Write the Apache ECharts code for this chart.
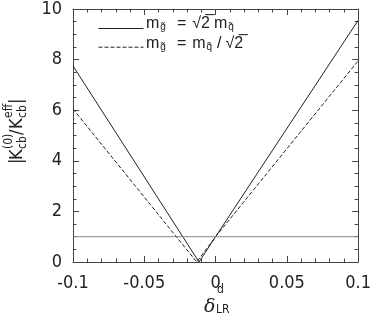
<!DOCTYPE html>
<html><head><meta charset="utf-8">
<script src="https://cdn.jsdelivr.net/npm/echarts@6/dist/echarts.min.js"></script>
<style>html,body{margin:0;padding:0;background:#fff}#c{width:374px;height:321px}</style>
</head><body><div id="c"></div>
<script>
var seriesNames = ['sqrt2', 'inv'];
var legendTexts = ['{m|m}{s|g̃}{e|=}{m|√2̅}{m2|m}{s|q̃}', '{m|m}{s|g̃}{e|=}{m|m}{s|q̃}{sl|/}{m|√2̅}'];
var solidX = [-0.1, -0.0116, 0, 0.1];
var solidY = [7.75, 0, 1, 9.55];
var dashedX = [-0.1, -0.0132, 0, 0.1];
var dashedY = [6.05, 0, 1, 7.95];
var refX = [-0.1, 0.1];
var refY = [1, 1];
var xTicks = [-0.1, -0.05, 0, 0.05, 0.1];
var yTicks = [0, 2, 4, 6, 8, 10];

function pairs(xs, ys){ return xs.map(function(x,i){return [x, ys[i]];}); }

var FONT = '"Liberation Sans Narrow", "DejaVu Sans Condensed", "Liberation Sans", sans-serif';
var LFONT = '"Liberation Sans", sans-serif';
var INK = '#222';
var chart = echarts.init(document.getElementById('c'), null, {renderer:'canvas'});
var axisCommon = {
  type:'value',
  axisLine:{show:true, onZero:false, lineStyle:{color:'#444', width:1}},
  axisTick:{show:true, inside:true, length:6, lineStyle:{color:'#444'}},
  splitLine:{show:false},
  minorSplitLine:{show:false}
};
var legendRich = {
  m:{fontFamily:LFONT, fontSize:16, fill:INK},
  m2:{fontFamily:LFONT, fontSize:16, fill:INK, padding:[0,0,0,4]},
  e:{fontFamily:LFONT, fontSize:16, fill:INK, padding:[0,6,0,11]},
  sl:{fontFamily:LFONT, fontSize:16, fill:INK, padding:[0,4,0,5]},
  s:{fontFamily:LFONT, fontSize:10, fill:INK, verticalAlign:'bottom', padding:[7,0,0,1]}
};
function txt(t, x, y, size, extra){
  var st = {text:t, fontFamily:FONT, fontSize:size, fill:INK, align:'left', verticalAlign:'middle'};
  if(extra) for(var k in extra) st[k]=extra[k];
  return {type:'text', x:x, y:y, style:st};
}
chart.setOption({
  animation:false,
  grid:{left:73, right:12, top:7, bottom:59, containLabel:false},
  legend:{
    show:true, orient:'vertical', left:93, top:17, itemWidth:45, itemHeight:13, itemGap:7,
    data:seriesNames,
    itemStyle:{color:'rgba(0,0,0,0)', borderWidth:0, opacity:0},
    lineStyle:{width:1},
    formatter:function(){ return ''; },
    textStyle:{fontSize:1}
  },
  xAxis:[
    Object.assign({}, axisCommon, {
      min:-0.1, max:0.1, interval:0.05, position:'bottom',
      minorTick:{show:true, splitNumber:5, length:3.5, lineStyle:{color:'#444'}},
      axisLabel:{show:true, margin:12, color:INK, fontFamily:FONT, fontSize:18,
        formatter:function(v){return String(+v.toFixed(2));}}
    }),
    Object.assign({}, axisCommon, {
      min:-0.1, max:0.1, interval:0.05, position:'top',
      minorTick:{show:true, splitNumber:5, length:3.5, lineStyle:{color:'#444'}},
      axisLabel:{show:false}
    })
  ],
  yAxis:[
    Object.assign({}, axisCommon, {
      min:0, max:10, interval:2, position:'left',
      minorTick:{show:true, splitNumber:4, length:3.5, lineStyle:{color:'#444'}},
      axisLabel:{show:true, margin:11, color:INK, fontFamily:FONT, fontSize:18}
    }),
    Object.assign({}, axisCommon, {
      min:0, max:10, interval:2, position:'right',
      minorTick:{show:true, splitNumber:4, length:3.5, lineStyle:{color:'#444'}},
      axisLabel:{show:false}
    })
  ],
  graphic:[
    // legend texts
    {type:'text', x:146, y:24, style:{text:legendTexts[0], rich:legendRich, fontFamily:LFONT, fontSize:16, fill:INK, verticalAlign:'middle'}},
    {type:'text', x:146, y:44, style:{text:legendTexts[1], rich:legendRich, fontFamily:LFONT, fontSize:16, fill:INK, verticalAlign:'middle'}},
    // x-axis title: delta^d_LR
    txt('δ', 204, 307, 19, {fontFamily:'"DejaVu Serif", serif', fontStyle:'italic'}),
    txt('d', 217, 290, 12),
    txt('LR', 216, 310, 12),
    // y-axis title, rotated
    {type:'group', x:17, y:131, rotation:Math.PI/2, children:[
      txt('|', -33, 0, 18),
      txt('K', -29, 0, 18),
      txt('cb', -18, 6, 12),
      txt('(0)', -18, -8, 12),
      txt('/', -4, 0, 18),
      txt('K', 2, 0, 18),
      txt('cb', 13, 6, 12),
      txt('eff', 13, -8, 12),
      txt('|', 27, 0, 18)
    ]}
  ],
  series:[
    {name:'sqrt2', type:'line', data:pairs(solidX, solidY), symbol:'none', showSymbol:false,
      lineStyle:{color:INK, width:1, type:'solid'}, itemStyle:{color:INK}},
    {name:'inv', type:'line', data:pairs(dashedX, dashedY), symbol:'none', showSymbol:false,
      lineStyle:{color:INK, width:1, type:[4,2]}, itemStyle:{color:INK}},
    {name:'ref', type:'line', data:pairs(refX, refY), symbol:'none', showSymbol:false,
      lineStyle:{color:'#888', width:1}, silent:true}
  ]
});
</script></body></html>
